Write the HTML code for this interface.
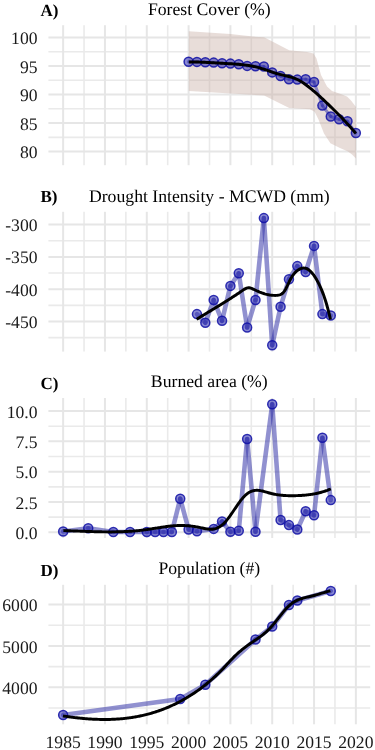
<!DOCTYPE html>
<html><head><meta charset="utf-8"><style>
html,body{margin:0;padding:0;background:#fff;width:375px;height:750px;overflow:hidden}
svg{display:block;will-change:transform}
text{font-family:"Liberation Serif",serif;fill:#1a1a1a;text-rendering:geometricPrecision}
.ax{font-size:17.6px}
.ti{font-size:17.7px;fill:#000}
.tag{font-size:17px;font-weight:bold;fill:#000}
</style></head><body>
<svg width="375" height="750" viewBox="0 0 375 750">
<rect width="375" height="750" fill="#fff"/>
<line x1="48.40" y1="51.75" x2="370.20" y2="51.75" stroke="#EAEAEA" stroke-width="1.6"/>
<line x1="48.40" y1="80.28" x2="370.20" y2="80.28" stroke="#EAEAEA" stroke-width="1.6"/>
<line x1="48.40" y1="108.82" x2="370.20" y2="108.82" stroke="#EAEAEA" stroke-width="1.6"/>
<line x1="48.40" y1="137.35" x2="370.20" y2="137.35" stroke="#EAEAEA" stroke-width="1.6"/>
<line x1="63.15" y1="25.20" x2="63.15" y2="165.20" stroke="#E6E6E6" stroke-width="2.0"/>
<line x1="84.06" y1="25.20" x2="84.06" y2="165.20" stroke="#EAEAEA" stroke-width="1.6"/>
<line x1="104.96" y1="25.20" x2="104.96" y2="165.20" stroke="#E6E6E6" stroke-width="2.0"/>
<line x1="125.87" y1="25.20" x2="125.87" y2="165.20" stroke="#EAEAEA" stroke-width="1.6"/>
<line x1="146.78" y1="25.20" x2="146.78" y2="165.20" stroke="#E6E6E6" stroke-width="2.0"/>
<line x1="167.69" y1="25.20" x2="167.69" y2="165.20" stroke="#EAEAEA" stroke-width="1.6"/>
<line x1="188.59" y1="25.20" x2="188.59" y2="165.20" stroke="#E6E6E6" stroke-width="2.0"/>
<line x1="209.50" y1="25.20" x2="209.50" y2="165.20" stroke="#EAEAEA" stroke-width="1.6"/>
<line x1="230.41" y1="25.20" x2="230.41" y2="165.20" stroke="#E6E6E6" stroke-width="2.0"/>
<line x1="251.31" y1="25.20" x2="251.31" y2="165.20" stroke="#EAEAEA" stroke-width="1.6"/>
<line x1="272.22" y1="25.20" x2="272.22" y2="165.20" stroke="#E6E6E6" stroke-width="2.0"/>
<line x1="293.13" y1="25.20" x2="293.13" y2="165.20" stroke="#EAEAEA" stroke-width="1.6"/>
<line x1="314.04" y1="25.20" x2="314.04" y2="165.20" stroke="#E6E6E6" stroke-width="2.0"/>
<line x1="334.94" y1="25.20" x2="334.94" y2="165.20" stroke="#EAEAEA" stroke-width="1.6"/>
<line x1="355.85" y1="25.20" x2="355.85" y2="165.20" stroke="#E6E6E6" stroke-width="2.0"/>
<line x1="48.40" y1="37.50" x2="370.20" y2="37.50" stroke="#E6E6E6" stroke-width="2.0"/>
<line x1="48.40" y1="66.00" x2="370.20" y2="66.00" stroke="#E6E6E6" stroke-width="2.0"/>
<line x1="48.40" y1="94.55" x2="370.20" y2="94.55" stroke="#E6E6E6" stroke-width="2.0"/>
<line x1="48.40" y1="123.10" x2="370.20" y2="123.10" stroke="#E6E6E6" stroke-width="2.0"/>
<line x1="48.40" y1="151.60" x2="370.20" y2="151.60" stroke="#E6E6E6" stroke-width="2.0"/>
<path d="M188.80,31.30 L230.30,33.90 L253.00,36.60 L264.10,37.30 L289.20,50.30 L307.10,52.10 L313.50,53.50 L316.50,58.50 L321.00,75.00 L327.00,86.50 L332.00,91.00 L340.00,93.70 L347.00,96.50 L351.00,100.50 L356.00,107.00 L356.00,158.50 L352.00,154.50 L348.00,151.40 L340.00,148.00 L330.40,143.20 L324.00,133.60 L318.40,119.20 L314.60,111.80 L309.90,109.30 L289.20,107.90 L264.10,95.60 L188.80,91.00 Z" fill="rgba(197,170,160,0.4)"/>
<line x1="188.59" y1="61.70" x2="196.96" y2="61.90" stroke="rgba(55,55,170,0.55)" stroke-width="3.0" stroke-linecap="round"/>
<line x1="196.96" y1="61.90" x2="205.32" y2="62.20" stroke="rgba(55,55,170,0.55)" stroke-width="3.0" stroke-linecap="round"/>
<line x1="205.32" y1="62.20" x2="213.68" y2="62.60" stroke="rgba(55,55,170,0.55)" stroke-width="3.0" stroke-linecap="round"/>
<line x1="213.68" y1="62.60" x2="222.04" y2="63.20" stroke="rgba(55,55,170,0.55)" stroke-width="3.0" stroke-linecap="round"/>
<line x1="222.04" y1="63.20" x2="230.41" y2="63.60" stroke="rgba(55,55,170,0.55)" stroke-width="3.0" stroke-linecap="round"/>
<line x1="230.41" y1="63.60" x2="238.77" y2="64.30" stroke="rgba(55,55,170,0.55)" stroke-width="3.0" stroke-linecap="round"/>
<line x1="238.77" y1="64.30" x2="247.13" y2="65.90" stroke="rgba(55,55,170,0.55)" stroke-width="3.0" stroke-linecap="round"/>
<line x1="247.13" y1="65.90" x2="255.50" y2="66.30" stroke="rgba(55,55,170,0.55)" stroke-width="3.0" stroke-linecap="round"/>
<line x1="255.50" y1="66.30" x2="263.86" y2="66.50" stroke="rgba(55,55,170,0.55)" stroke-width="3.0" stroke-linecap="round"/>
<line x1="263.86" y1="66.50" x2="272.22" y2="72.40" stroke="rgba(55,55,170,0.55)" stroke-width="3.0" stroke-linecap="round"/>
<line x1="272.22" y1="72.40" x2="280.58" y2="76.00" stroke="rgba(55,55,170,0.55)" stroke-width="3.0" stroke-linecap="round"/>
<line x1="280.58" y1="76.00" x2="288.95" y2="79.30" stroke="rgba(55,55,170,0.55)" stroke-width="3.0" stroke-linecap="round"/>
<line x1="288.95" y1="79.30" x2="297.31" y2="79.60" stroke="rgba(55,55,170,0.55)" stroke-width="3.0" stroke-linecap="round"/>
<line x1="297.31" y1="79.60" x2="305.67" y2="79.30" stroke="rgba(55,55,170,0.55)" stroke-width="3.0" stroke-linecap="round"/>
<line x1="305.67" y1="79.30" x2="314.04" y2="82.00" stroke="rgba(55,55,170,0.55)" stroke-width="3.0" stroke-linecap="round"/>
<line x1="314.04" y1="82.00" x2="322.40" y2="105.60" stroke="rgba(55,55,170,0.55)" stroke-width="3.0" stroke-linecap="round"/>
<line x1="322.40" y1="105.60" x2="330.76" y2="116.50" stroke="rgba(55,55,170,0.55)" stroke-width="3.0" stroke-linecap="round"/>
<line x1="330.76" y1="116.50" x2="339.12" y2="119.30" stroke="rgba(55,55,170,0.55)" stroke-width="3.0" stroke-linecap="round"/>
<line x1="339.12" y1="119.30" x2="347.49" y2="121.30" stroke="rgba(55,55,170,0.55)" stroke-width="3.0" stroke-linecap="round"/>
<line x1="347.49" y1="121.30" x2="355.85" y2="133.00" stroke="rgba(55,55,170,0.55)" stroke-width="3.0" stroke-linecap="round"/>
<circle cx="188.59" cy="61.70" r="4.5" fill="rgba(40,40,175,0.55)" stroke="rgba(15,15,165,0.85)" stroke-width="1.5"/>
<circle cx="196.96" cy="61.90" r="4.5" fill="rgba(40,40,175,0.55)" stroke="rgba(15,15,165,0.85)" stroke-width="1.5"/>
<circle cx="205.32" cy="62.20" r="4.5" fill="rgba(40,40,175,0.55)" stroke="rgba(15,15,165,0.85)" stroke-width="1.5"/>
<circle cx="213.68" cy="62.60" r="4.5" fill="rgba(40,40,175,0.55)" stroke="rgba(15,15,165,0.85)" stroke-width="1.5"/>
<circle cx="222.04" cy="63.20" r="4.5" fill="rgba(40,40,175,0.55)" stroke="rgba(15,15,165,0.85)" stroke-width="1.5"/>
<circle cx="230.41" cy="63.60" r="4.5" fill="rgba(40,40,175,0.55)" stroke="rgba(15,15,165,0.85)" stroke-width="1.5"/>
<circle cx="238.77" cy="64.30" r="4.5" fill="rgba(40,40,175,0.55)" stroke="rgba(15,15,165,0.85)" stroke-width="1.5"/>
<circle cx="247.13" cy="65.90" r="4.5" fill="rgba(40,40,175,0.55)" stroke="rgba(15,15,165,0.85)" stroke-width="1.5"/>
<circle cx="255.50" cy="66.30" r="4.5" fill="rgba(40,40,175,0.55)" stroke="rgba(15,15,165,0.85)" stroke-width="1.5"/>
<circle cx="263.86" cy="66.50" r="4.5" fill="rgba(40,40,175,0.55)" stroke="rgba(15,15,165,0.85)" stroke-width="1.5"/>
<circle cx="272.22" cy="72.40" r="4.5" fill="rgba(40,40,175,0.55)" stroke="rgba(15,15,165,0.85)" stroke-width="1.5"/>
<circle cx="280.58" cy="76.00" r="4.5" fill="rgba(40,40,175,0.55)" stroke="rgba(15,15,165,0.85)" stroke-width="1.5"/>
<circle cx="288.95" cy="79.30" r="4.5" fill="rgba(40,40,175,0.55)" stroke="rgba(15,15,165,0.85)" stroke-width="1.5"/>
<circle cx="297.31" cy="79.60" r="4.5" fill="rgba(40,40,175,0.55)" stroke="rgba(15,15,165,0.85)" stroke-width="1.5"/>
<circle cx="305.67" cy="79.30" r="4.5" fill="rgba(40,40,175,0.55)" stroke="rgba(15,15,165,0.85)" stroke-width="1.5"/>
<circle cx="314.04" cy="82.00" r="4.5" fill="rgba(40,40,175,0.55)" stroke="rgba(15,15,165,0.85)" stroke-width="1.5"/>
<circle cx="322.40" cy="105.60" r="4.5" fill="rgba(40,40,175,0.55)" stroke="rgba(15,15,165,0.85)" stroke-width="1.5"/>
<circle cx="330.76" cy="116.50" r="4.5" fill="rgba(40,40,175,0.55)" stroke="rgba(15,15,165,0.85)" stroke-width="1.5"/>
<circle cx="339.12" cy="119.30" r="4.5" fill="rgba(40,40,175,0.55)" stroke="rgba(15,15,165,0.85)" stroke-width="1.5"/>
<circle cx="347.49" cy="121.30" r="4.5" fill="rgba(40,40,175,0.55)" stroke="rgba(15,15,165,0.85)" stroke-width="1.5"/>
<circle cx="355.85" cy="133.00" r="4.5" fill="rgba(40,40,175,0.55)" stroke="rgba(15,15,165,0.85)" stroke-width="1.5"/>
<path d="M188.80,61.90 L189.80,61.90 L190.80,61.91 L191.80,61.92 L192.80,61.93 L193.80,61.95 L194.80,61.97 L195.80,61.99 L196.80,62.02 L197.80,62.05 L198.80,62.08 L199.80,62.11 L200.80,62.15 L201.80,62.19 L202.80,62.23 L203.80,62.28 L204.80,62.32 L205.80,62.37 L206.80,62.42 L207.80,62.47 L208.80,62.52 L209.80,62.57 L210.80,62.63 L211.80,62.68 L212.80,62.74 L213.80,62.80 L214.80,62.86 L215.80,62.91 L216.80,62.97 L217.80,63.03 L218.80,63.09 L219.80,63.15 L220.80,63.21 L221.80,63.27 L222.80,63.33 L223.80,63.38 L224.80,63.44 L225.80,63.50 L226.80,63.55 L227.80,63.61 L228.80,63.67 L229.80,63.72 L230.80,63.78 L231.80,63.84 L232.80,63.90 L233.80,63.97 L234.80,64.04 L235.80,64.11 L236.80,64.18 L237.80,64.26 L238.80,64.34 L239.80,64.43 L240.80,64.53 L241.80,64.63 L242.80,64.73 L243.80,64.85 L244.80,64.97 L245.80,65.09 L246.80,65.23 L247.80,65.38 L248.80,65.53 L249.80,65.69 L250.80,65.86 L251.80,66.05 L252.80,66.24 L253.80,66.45 L254.80,66.66 L255.80,66.89 L256.80,67.13 L257.80,67.39 L258.80,67.65 L259.80,67.93 L260.80,68.23 L261.80,68.54 L262.80,68.85 L263.80,69.18 L264.80,69.52 L265.80,69.86 L266.80,70.21 L267.80,70.56 L268.80,70.91 L269.80,71.26 L270.80,71.61 L271.80,71.96 L272.80,72.30 L273.80,72.63 L274.80,72.96 L275.80,73.27 L276.80,73.58 L277.80,73.87 L278.80,74.15 L279.80,74.41 L280.80,74.65 L281.80,74.89 L282.80,75.12 L283.80,75.35 L284.80,75.57 L285.80,75.80 L286.80,76.03 L287.80,76.26 L288.80,76.51 L289.80,76.77 L290.80,77.05 L291.80,77.35 L292.80,77.67 L293.80,78.02 L294.80,78.39 L295.80,78.79 L296.80,79.23 L297.80,79.71 L298.80,80.22 L299.80,80.77 L300.80,81.36 L301.80,81.97 L302.80,82.61 L303.80,83.29 L304.80,83.99 L305.80,84.71 L306.80,85.45 L307.80,86.21 L308.80,87.00 L309.80,87.79 L310.80,88.60 L311.80,89.43 L312.80,90.26 L313.80,91.11 L314.80,91.97 L315.80,92.84 L316.80,93.72 L317.80,94.60 L318.80,95.50 L319.80,96.41 L320.80,97.32 L321.80,98.24 L322.80,99.17 L323.80,100.11 L324.80,101.05 L325.80,102.00 L326.80,102.96 L327.80,103.92 L328.80,104.88 L329.80,105.85 L330.80,106.83 L331.80,107.80 L332.80,108.78 L333.80,109.77 L334.80,110.76 L335.80,111.75 L336.80,112.75 L337.80,113.75 L338.80,114.76 L339.80,115.78 L340.80,116.80 L341.80,117.83 L342.80,118.87 L343.80,119.92 L344.80,120.98 L345.80,122.05 L346.80,123.13 L347.80,124.22 L348.80,125.33 L349.80,126.44 L350.80,127.57 L351.80,128.72 L352.80,129.87 L353.80,131.04 L354.80,132.23 L355.80,133.43 L355.90,133.55" fill="none" stroke="#000" stroke-width="2.95" stroke-linecap="butt" stroke-linejoin="round"/>
<line x1="48.40" y1="240.75" x2="370.20" y2="240.75" stroke="#EAEAEA" stroke-width="1.6"/>
<line x1="48.40" y1="273.05" x2="370.20" y2="273.05" stroke="#EAEAEA" stroke-width="1.6"/>
<line x1="48.40" y1="305.35" x2="370.20" y2="305.35" stroke="#EAEAEA" stroke-width="1.6"/>
<line x1="48.40" y1="337.65" x2="370.20" y2="337.65" stroke="#EAEAEA" stroke-width="1.6"/>
<line x1="63.15" y1="211.80" x2="63.15" y2="351.60" stroke="#E6E6E6" stroke-width="2.0"/>
<line x1="84.06" y1="211.80" x2="84.06" y2="351.60" stroke="#EAEAEA" stroke-width="1.6"/>
<line x1="104.96" y1="211.80" x2="104.96" y2="351.60" stroke="#E6E6E6" stroke-width="2.0"/>
<line x1="125.87" y1="211.80" x2="125.87" y2="351.60" stroke="#EAEAEA" stroke-width="1.6"/>
<line x1="146.78" y1="211.80" x2="146.78" y2="351.60" stroke="#E6E6E6" stroke-width="2.0"/>
<line x1="167.69" y1="211.80" x2="167.69" y2="351.60" stroke="#EAEAEA" stroke-width="1.6"/>
<line x1="188.59" y1="211.80" x2="188.59" y2="351.60" stroke="#E6E6E6" stroke-width="2.0"/>
<line x1="209.50" y1="211.80" x2="209.50" y2="351.60" stroke="#EAEAEA" stroke-width="1.6"/>
<line x1="230.41" y1="211.80" x2="230.41" y2="351.60" stroke="#E6E6E6" stroke-width="2.0"/>
<line x1="251.31" y1="211.80" x2="251.31" y2="351.60" stroke="#EAEAEA" stroke-width="1.6"/>
<line x1="272.22" y1="211.80" x2="272.22" y2="351.60" stroke="#E6E6E6" stroke-width="2.0"/>
<line x1="293.13" y1="211.80" x2="293.13" y2="351.60" stroke="#EAEAEA" stroke-width="1.6"/>
<line x1="314.04" y1="211.80" x2="314.04" y2="351.60" stroke="#E6E6E6" stroke-width="2.0"/>
<line x1="334.94" y1="211.80" x2="334.94" y2="351.60" stroke="#EAEAEA" stroke-width="1.6"/>
<line x1="355.85" y1="211.80" x2="355.85" y2="351.60" stroke="#E6E6E6" stroke-width="2.0"/>
<line x1="48.40" y1="224.60" x2="370.20" y2="224.60" stroke="#E6E6E6" stroke-width="2.0"/>
<line x1="48.40" y1="256.90" x2="370.20" y2="256.90" stroke="#E6E6E6" stroke-width="2.0"/>
<line x1="48.40" y1="289.20" x2="370.20" y2="289.20" stroke="#E6E6E6" stroke-width="2.0"/>
<line x1="48.40" y1="321.50" x2="370.20" y2="321.50" stroke="#E6E6E6" stroke-width="2.0"/>
<line x1="196.96" y1="314.10" x2="205.32" y2="322.70" stroke="rgba(55,55,170,0.55)" stroke-width="4.6" stroke-linecap="round"/>
<line x1="205.32" y1="322.70" x2="213.68" y2="300.00" stroke="rgba(55,55,170,0.55)" stroke-width="4.6" stroke-linecap="round"/>
<line x1="213.68" y1="300.00" x2="222.04" y2="320.80" stroke="rgba(55,55,170,0.55)" stroke-width="4.6" stroke-linecap="round"/>
<line x1="222.04" y1="320.80" x2="230.41" y2="285.90" stroke="rgba(55,55,170,0.55)" stroke-width="4.6" stroke-linecap="round"/>
<line x1="230.41" y1="285.90" x2="238.77" y2="273.30" stroke="rgba(55,55,170,0.55)" stroke-width="4.6" stroke-linecap="round"/>
<line x1="238.77" y1="273.30" x2="247.13" y2="327.50" stroke="rgba(55,55,170,0.55)" stroke-width="4.6" stroke-linecap="round"/>
<line x1="247.13" y1="327.50" x2="255.50" y2="300.00" stroke="rgba(55,55,170,0.55)" stroke-width="4.6" stroke-linecap="round"/>
<line x1="255.50" y1="300.00" x2="263.86" y2="218.10" stroke="rgba(55,55,170,0.55)" stroke-width="4.6" stroke-linecap="round"/>
<line x1="263.86" y1="218.10" x2="272.22" y2="345.30" stroke="rgba(55,55,170,0.55)" stroke-width="4.6" stroke-linecap="round"/>
<line x1="272.22" y1="345.30" x2="280.58" y2="306.70" stroke="rgba(55,55,170,0.55)" stroke-width="4.6" stroke-linecap="round"/>
<line x1="280.58" y1="306.70" x2="288.95" y2="279.20" stroke="rgba(55,55,170,0.55)" stroke-width="4.6" stroke-linecap="round"/>
<line x1="288.95" y1="279.20" x2="297.31" y2="266.10" stroke="rgba(55,55,170,0.55)" stroke-width="4.6" stroke-linecap="round"/>
<line x1="297.31" y1="266.10" x2="305.67" y2="272.00" stroke="rgba(55,55,170,0.55)" stroke-width="4.6" stroke-linecap="round"/>
<line x1="305.67" y1="272.00" x2="314.04" y2="245.90" stroke="rgba(55,55,170,0.55)" stroke-width="4.6" stroke-linecap="round"/>
<line x1="314.04" y1="245.90" x2="322.40" y2="314.10" stroke="rgba(55,55,170,0.55)" stroke-width="4.6" stroke-linecap="round"/>
<line x1="322.40" y1="314.10" x2="330.76" y2="315.50" stroke="rgba(55,55,170,0.55)" stroke-width="4.6" stroke-linecap="round"/>
<circle cx="196.96" cy="314.10" r="4.5" fill="rgba(40,40,175,0.55)" stroke="rgba(15,15,165,0.85)" stroke-width="1.5"/>
<circle cx="205.32" cy="322.70" r="4.5" fill="rgba(40,40,175,0.55)" stroke="rgba(15,15,165,0.85)" stroke-width="1.5"/>
<circle cx="213.68" cy="300.00" r="4.5" fill="rgba(40,40,175,0.55)" stroke="rgba(15,15,165,0.85)" stroke-width="1.5"/>
<circle cx="222.04" cy="320.80" r="4.5" fill="rgba(40,40,175,0.55)" stroke="rgba(15,15,165,0.85)" stroke-width="1.5"/>
<circle cx="230.41" cy="285.90" r="4.5" fill="rgba(40,40,175,0.55)" stroke="rgba(15,15,165,0.85)" stroke-width="1.5"/>
<circle cx="238.77" cy="273.30" r="4.5" fill="rgba(40,40,175,0.55)" stroke="rgba(15,15,165,0.85)" stroke-width="1.5"/>
<circle cx="247.13" cy="327.50" r="4.5" fill="rgba(40,40,175,0.55)" stroke="rgba(15,15,165,0.85)" stroke-width="1.5"/>
<circle cx="255.50" cy="300.00" r="4.5" fill="rgba(40,40,175,0.55)" stroke="rgba(15,15,165,0.85)" stroke-width="1.5"/>
<circle cx="263.86" cy="218.10" r="4.5" fill="rgba(40,40,175,0.55)" stroke="rgba(15,15,165,0.85)" stroke-width="1.5"/>
<circle cx="272.22" cy="345.30" r="4.5" fill="rgba(40,40,175,0.55)" stroke="rgba(15,15,165,0.85)" stroke-width="1.5"/>
<circle cx="280.58" cy="306.70" r="4.5" fill="rgba(40,40,175,0.55)" stroke="rgba(15,15,165,0.85)" stroke-width="1.5"/>
<circle cx="288.95" cy="279.20" r="4.5" fill="rgba(40,40,175,0.55)" stroke="rgba(15,15,165,0.85)" stroke-width="1.5"/>
<circle cx="297.31" cy="266.10" r="4.5" fill="rgba(40,40,175,0.55)" stroke="rgba(15,15,165,0.85)" stroke-width="1.5"/>
<circle cx="305.67" cy="272.00" r="4.5" fill="rgba(40,40,175,0.55)" stroke="rgba(15,15,165,0.85)" stroke-width="1.5"/>
<circle cx="314.04" cy="245.90" r="4.5" fill="rgba(40,40,175,0.55)" stroke="rgba(15,15,165,0.85)" stroke-width="1.5"/>
<circle cx="322.40" cy="314.10" r="4.5" fill="rgba(40,40,175,0.55)" stroke="rgba(15,15,165,0.85)" stroke-width="1.5"/>
<circle cx="330.76" cy="315.50" r="4.5" fill="rgba(40,40,175,0.55)" stroke="rgba(15,15,165,0.85)" stroke-width="1.5"/>
<path d="M196.60,319.31 L197.60,318.69 L198.60,318.08 L199.60,317.47 L200.60,316.85 L201.60,316.24 L202.60,315.63 L203.60,315.02 L204.60,314.42 L205.60,313.81 L206.60,313.20 L207.60,312.59 L208.60,311.99 L209.60,311.38 L210.60,310.77 L211.60,310.17 L212.60,309.56 L213.60,308.95 L214.60,308.34 L215.60,307.73 L216.60,307.12 L217.60,306.51 L218.60,305.90 L219.60,305.28 L220.60,304.67 L221.60,304.05 L222.60,303.43 L223.60,302.81 L224.60,302.19 L225.60,301.56 L226.60,300.93 L227.60,300.30 L228.60,299.67 L229.60,299.04 L230.60,298.40 L231.60,297.76 L232.60,297.11 L233.60,296.46 L234.60,295.81 L235.60,295.16 L236.60,294.50 L237.60,293.83 L238.60,293.16 L239.60,292.49 L240.60,291.80 L241.60,291.11 L242.60,290.41 L243.60,289.74 L244.60,289.12 L245.60,288.58 L246.60,288.16 L247.60,287.88 L248.60,287.77 L249.60,287.84 L250.60,288.06 L251.60,288.40 L252.60,288.83 L253.60,289.30 L254.60,289.80 L255.60,290.29 L256.60,290.76 L257.60,291.22 L258.60,291.65 L259.60,292.07 L260.60,292.46 L261.60,292.83 L262.60,293.18 L263.60,293.51 L264.60,293.82 L265.60,294.10 L266.60,294.35 L267.60,294.58 L268.60,294.78 L269.60,294.96 L270.60,295.11 L271.60,295.23 L272.60,295.32 L273.60,295.37 L274.60,295.40 L275.60,295.40 L276.60,295.36 L277.60,295.29 L278.60,295.15 L279.60,294.91 L280.60,294.53 L281.60,293.98 L282.60,293.21 L283.60,292.18 L284.60,290.86 L285.60,289.22 L286.60,287.30 L287.60,285.21 L288.60,283.05 L289.60,280.93 L290.60,278.97 L291.60,277.22 L292.60,275.67 L293.60,274.31 L294.60,273.12 L295.60,272.07 L296.60,271.16 L297.60,270.36 L298.60,269.67 L299.60,269.10 L300.60,268.64 L301.60,268.31 L302.60,268.10 L303.60,268.03 L304.60,268.10 L305.60,268.30 L306.60,268.66 L307.60,269.15 L308.60,269.78 L309.60,270.55 L310.60,271.46 L311.60,272.50 L312.60,273.67 L313.60,274.97 L314.60,276.40 L315.60,277.95 L316.60,279.62 L317.60,281.42 L318.60,283.34 L319.60,285.37 L320.60,287.55 L321.60,289.88 L322.60,292.37 L323.60,295.04 L324.60,297.90 L325.60,300.97 L326.60,304.26 L327.60,307.79 L328.60,311.56 L329.60,315.61 L330.50,319.48" fill="none" stroke="#000" stroke-width="2.95" stroke-linecap="butt" stroke-linejoin="round"/>
<line x1="48.40" y1="426.18" x2="370.20" y2="426.18" stroke="#EAEAEA" stroke-width="1.6"/>
<line x1="48.40" y1="456.52" x2="370.20" y2="456.52" stroke="#EAEAEA" stroke-width="1.6"/>
<line x1="48.40" y1="486.85" x2="370.20" y2="486.85" stroke="#EAEAEA" stroke-width="1.6"/>
<line x1="48.40" y1="517.15" x2="370.20" y2="517.15" stroke="#EAEAEA" stroke-width="1.6"/>
<line x1="63.15" y1="398.00" x2="63.15" y2="538.00" stroke="#E6E6E6" stroke-width="2.0"/>
<line x1="84.06" y1="398.00" x2="84.06" y2="538.00" stroke="#EAEAEA" stroke-width="1.6"/>
<line x1="104.96" y1="398.00" x2="104.96" y2="538.00" stroke="#E6E6E6" stroke-width="2.0"/>
<line x1="125.87" y1="398.00" x2="125.87" y2="538.00" stroke="#EAEAEA" stroke-width="1.6"/>
<line x1="146.78" y1="398.00" x2="146.78" y2="538.00" stroke="#E6E6E6" stroke-width="2.0"/>
<line x1="167.69" y1="398.00" x2="167.69" y2="538.00" stroke="#EAEAEA" stroke-width="1.6"/>
<line x1="188.59" y1="398.00" x2="188.59" y2="538.00" stroke="#E6E6E6" stroke-width="2.0"/>
<line x1="209.50" y1="398.00" x2="209.50" y2="538.00" stroke="#EAEAEA" stroke-width="1.6"/>
<line x1="230.41" y1="398.00" x2="230.41" y2="538.00" stroke="#E6E6E6" stroke-width="2.0"/>
<line x1="251.31" y1="398.00" x2="251.31" y2="538.00" stroke="#EAEAEA" stroke-width="1.6"/>
<line x1="272.22" y1="398.00" x2="272.22" y2="538.00" stroke="#E6E6E6" stroke-width="2.0"/>
<line x1="293.13" y1="398.00" x2="293.13" y2="538.00" stroke="#EAEAEA" stroke-width="1.6"/>
<line x1="314.04" y1="398.00" x2="314.04" y2="538.00" stroke="#E6E6E6" stroke-width="2.0"/>
<line x1="334.94" y1="398.00" x2="334.94" y2="538.00" stroke="#EAEAEA" stroke-width="1.6"/>
<line x1="355.85" y1="398.00" x2="355.85" y2="538.00" stroke="#E6E6E6" stroke-width="2.0"/>
<line x1="48.40" y1="411.00" x2="370.20" y2="411.00" stroke="#E6E6E6" stroke-width="2.0"/>
<line x1="48.40" y1="441.35" x2="370.20" y2="441.35" stroke="#E6E6E6" stroke-width="2.0"/>
<line x1="48.40" y1="471.70" x2="370.20" y2="471.70" stroke="#E6E6E6" stroke-width="2.0"/>
<line x1="48.40" y1="502.00" x2="370.20" y2="502.00" stroke="#E6E6E6" stroke-width="2.0"/>
<line x1="48.40" y1="532.30" x2="370.20" y2="532.30" stroke="#E6E6E6" stroke-width="2.0"/>
<line x1="63.15" y1="531.50" x2="88.24" y2="528.20" stroke="rgba(55,55,170,0.55)" stroke-width="4.6" stroke-linecap="round"/>
<line x1="88.24" y1="528.20" x2="113.33" y2="532.00" stroke="rgba(55,55,170,0.55)" stroke-width="4.6" stroke-linecap="round"/>
<line x1="113.33" y1="532.00" x2="130.05" y2="532.00" stroke="rgba(55,55,170,0.55)" stroke-width="4.6" stroke-linecap="round"/>
<line x1="130.05" y1="532.00" x2="146.78" y2="532.00" stroke="rgba(55,55,170,0.55)" stroke-width="4.6" stroke-linecap="round"/>
<line x1="146.78" y1="532.00" x2="155.14" y2="532.00" stroke="rgba(55,55,170,0.55)" stroke-width="4.6" stroke-linecap="round"/>
<line x1="155.14" y1="532.00" x2="163.50" y2="532.00" stroke="rgba(55,55,170,0.55)" stroke-width="4.6" stroke-linecap="round"/>
<line x1="163.50" y1="532.00" x2="171.87" y2="532.00" stroke="rgba(55,55,170,0.55)" stroke-width="4.6" stroke-linecap="round"/>
<line x1="171.87" y1="532.00" x2="180.23" y2="498.70" stroke="rgba(55,55,170,0.55)" stroke-width="4.6" stroke-linecap="round"/>
<line x1="180.23" y1="498.70" x2="188.59" y2="529.50" stroke="rgba(55,55,170,0.55)" stroke-width="4.6" stroke-linecap="round"/>
<line x1="188.59" y1="529.50" x2="196.96" y2="531.30" stroke="rgba(55,55,170,0.55)" stroke-width="4.6" stroke-linecap="round"/>
<line x1="196.96" y1="531.30" x2="213.68" y2="528.90" stroke="rgba(55,55,170,0.55)" stroke-width="4.6" stroke-linecap="round"/>
<line x1="213.68" y1="528.90" x2="222.04" y2="521.50" stroke="rgba(55,55,170,0.55)" stroke-width="4.6" stroke-linecap="round"/>
<line x1="222.04" y1="521.50" x2="230.41" y2="531.80" stroke="rgba(55,55,170,0.55)" stroke-width="4.6" stroke-linecap="round"/>
<line x1="230.41" y1="531.80" x2="238.77" y2="530.70" stroke="rgba(55,55,170,0.55)" stroke-width="4.6" stroke-linecap="round"/>
<line x1="238.77" y1="530.70" x2="247.13" y2="439.00" stroke="rgba(55,55,170,0.55)" stroke-width="4.6" stroke-linecap="round"/>
<line x1="247.13" y1="439.00" x2="255.50" y2="531.80" stroke="rgba(55,55,170,0.55)" stroke-width="4.6" stroke-linecap="round"/>
<line x1="255.50" y1="531.80" x2="272.22" y2="404.30" stroke="rgba(55,55,170,0.55)" stroke-width="4.6" stroke-linecap="round"/>
<line x1="272.22" y1="404.30" x2="280.58" y2="520.00" stroke="rgba(55,55,170,0.55)" stroke-width="4.6" stroke-linecap="round"/>
<line x1="280.58" y1="520.00" x2="288.95" y2="525.10" stroke="rgba(55,55,170,0.55)" stroke-width="4.6" stroke-linecap="round"/>
<line x1="288.95" y1="525.10" x2="297.31" y2="529.50" stroke="rgba(55,55,170,0.55)" stroke-width="4.6" stroke-linecap="round"/>
<line x1="297.31" y1="529.50" x2="305.67" y2="511.30" stroke="rgba(55,55,170,0.55)" stroke-width="4.6" stroke-linecap="round"/>
<line x1="305.67" y1="511.30" x2="314.04" y2="515.30" stroke="rgba(55,55,170,0.55)" stroke-width="4.6" stroke-linecap="round"/>
<line x1="314.04" y1="515.30" x2="322.40" y2="437.80" stroke="rgba(55,55,170,0.55)" stroke-width="4.6" stroke-linecap="round"/>
<line x1="322.40" y1="437.80" x2="330.76" y2="500.10" stroke="rgba(55,55,170,0.55)" stroke-width="4.6" stroke-linecap="round"/>
<circle cx="63.15" cy="531.50" r="4.5" fill="rgba(40,40,175,0.55)" stroke="rgba(15,15,165,0.85)" stroke-width="1.5"/>
<circle cx="88.24" cy="528.20" r="4.5" fill="rgba(40,40,175,0.55)" stroke="rgba(15,15,165,0.85)" stroke-width="1.5"/>
<circle cx="113.33" cy="532.00" r="4.5" fill="rgba(40,40,175,0.55)" stroke="rgba(15,15,165,0.85)" stroke-width="1.5"/>
<circle cx="130.05" cy="532.00" r="4.5" fill="rgba(40,40,175,0.55)" stroke="rgba(15,15,165,0.85)" stroke-width="1.5"/>
<circle cx="146.78" cy="532.00" r="4.5" fill="rgba(40,40,175,0.55)" stroke="rgba(15,15,165,0.85)" stroke-width="1.5"/>
<circle cx="155.14" cy="532.00" r="4.5" fill="rgba(40,40,175,0.55)" stroke="rgba(15,15,165,0.85)" stroke-width="1.5"/>
<circle cx="163.50" cy="532.00" r="4.5" fill="rgba(40,40,175,0.55)" stroke="rgba(15,15,165,0.85)" stroke-width="1.5"/>
<circle cx="171.87" cy="532.00" r="4.5" fill="rgba(40,40,175,0.55)" stroke="rgba(15,15,165,0.85)" stroke-width="1.5"/>
<circle cx="180.23" cy="498.70" r="4.5" fill="rgba(40,40,175,0.55)" stroke="rgba(15,15,165,0.85)" stroke-width="1.5"/>
<circle cx="188.59" cy="529.50" r="4.5" fill="rgba(40,40,175,0.55)" stroke="rgba(15,15,165,0.85)" stroke-width="1.5"/>
<circle cx="196.96" cy="531.30" r="4.5" fill="rgba(40,40,175,0.55)" stroke="rgba(15,15,165,0.85)" stroke-width="1.5"/>
<circle cx="213.68" cy="528.90" r="4.5" fill="rgba(40,40,175,0.55)" stroke="rgba(15,15,165,0.85)" stroke-width="1.5"/>
<circle cx="222.04" cy="521.50" r="4.5" fill="rgba(40,40,175,0.55)" stroke="rgba(15,15,165,0.85)" stroke-width="1.5"/>
<circle cx="230.41" cy="531.80" r="4.5" fill="rgba(40,40,175,0.55)" stroke="rgba(15,15,165,0.85)" stroke-width="1.5"/>
<circle cx="238.77" cy="530.70" r="4.5" fill="rgba(40,40,175,0.55)" stroke="rgba(15,15,165,0.85)" stroke-width="1.5"/>
<circle cx="247.13" cy="439.00" r="4.5" fill="rgba(40,40,175,0.55)" stroke="rgba(15,15,165,0.85)" stroke-width="1.5"/>
<circle cx="255.50" cy="531.80" r="4.5" fill="rgba(40,40,175,0.55)" stroke="rgba(15,15,165,0.85)" stroke-width="1.5"/>
<circle cx="272.22" cy="404.30" r="4.5" fill="rgba(40,40,175,0.55)" stroke="rgba(15,15,165,0.85)" stroke-width="1.5"/>
<circle cx="280.58" cy="520.00" r="4.5" fill="rgba(40,40,175,0.55)" stroke="rgba(15,15,165,0.85)" stroke-width="1.5"/>
<circle cx="288.95" cy="525.10" r="4.5" fill="rgba(40,40,175,0.55)" stroke="rgba(15,15,165,0.85)" stroke-width="1.5"/>
<circle cx="297.31" cy="529.50" r="4.5" fill="rgba(40,40,175,0.55)" stroke="rgba(15,15,165,0.85)" stroke-width="1.5"/>
<circle cx="305.67" cy="511.30" r="4.5" fill="rgba(40,40,175,0.55)" stroke="rgba(15,15,165,0.85)" stroke-width="1.5"/>
<circle cx="314.04" cy="515.30" r="4.5" fill="rgba(40,40,175,0.55)" stroke="rgba(15,15,165,0.85)" stroke-width="1.5"/>
<circle cx="322.40" cy="437.80" r="4.5" fill="rgba(40,40,175,0.55)" stroke="rgba(15,15,165,0.85)" stroke-width="1.5"/>
<circle cx="330.76" cy="500.10" r="4.5" fill="rgba(40,40,175,0.55)" stroke="rgba(15,15,165,0.85)" stroke-width="1.5"/>
<path d="M63.40,530.57 L64.40,530.60 L65.40,530.63 L66.40,530.67 L67.40,530.70 L68.40,530.74 L69.40,530.77 L70.40,530.81 L71.40,530.85 L72.40,530.88 L73.40,530.92 L74.40,530.96 L75.40,531.00 L76.40,531.04 L77.40,531.07 L78.40,531.11 L79.40,531.15 L80.40,531.19 L81.40,531.23 L82.40,531.27 L83.40,531.30 L84.40,531.34 L85.40,531.38 L86.40,531.41 L87.40,531.45 L88.40,531.48 L89.40,531.52 L90.40,531.55 L91.40,531.58 L92.40,531.61 L93.40,531.64 L94.40,531.67 L95.40,531.70 L96.40,531.72 L97.40,531.75 L98.40,531.77 L99.40,531.79 L100.40,531.81 L101.40,531.83 L102.40,531.85 L103.40,531.86 L104.40,531.87 L105.40,531.88 L106.40,531.89 L107.40,531.90 L108.40,531.90 L109.40,531.90 L110.40,531.90 L111.40,531.90 L112.40,531.89 L113.40,531.88 L114.40,531.87 L115.40,531.86 L116.40,531.84 L117.40,531.82 L118.40,531.80 L119.40,531.77 L120.40,531.74 L121.40,531.71 L122.40,531.68 L123.40,531.64 L124.40,531.59 L125.40,531.55 L126.40,531.50 L127.40,531.45 L128.40,531.39 L129.40,531.33 L130.40,531.26 L131.40,531.20 L132.40,531.12 L133.40,531.05 L134.40,530.97 L135.40,530.88 L136.40,530.79 L137.40,530.70 L138.40,530.60 L139.40,530.50 L140.40,530.39 L141.40,530.28 L142.40,530.16 L143.40,530.04 L144.40,529.91 L145.40,529.78 L146.40,529.64 L147.40,529.50 L148.40,529.35 L149.40,529.20 L150.40,529.05 L151.40,528.89 L152.40,528.73 L153.40,528.57 L154.40,528.41 L155.40,528.25 L156.40,528.09 L157.40,527.93 L158.40,527.76 L159.40,527.60 L160.40,527.45 L161.40,527.29 L162.40,527.14 L163.40,526.99 L164.40,526.84 L165.40,526.70 L166.40,526.57 L167.40,526.44 L168.40,526.32 L169.40,526.20 L170.40,526.09 L171.40,525.99 L172.40,525.90 L173.40,525.81 L174.40,525.74 L175.40,525.67 L176.40,525.61 L177.40,525.57 L178.40,525.54 L179.40,525.52 L180.40,525.51 L181.40,525.51 L182.40,525.52 L183.40,525.54 L184.40,525.57 L185.40,525.62 L186.40,525.68 L187.40,525.74 L188.40,525.82 L189.40,525.91 L190.40,526.01 L191.40,526.12 L192.40,526.25 L193.40,526.38 L194.40,526.52 L195.40,526.68 L196.40,526.84 L197.40,527.02 L198.40,527.21 L199.40,527.41 L200.40,527.62 L201.40,527.84 L202.40,528.06 L203.40,528.28 L204.40,528.50 L205.40,528.70 L206.40,528.88 L207.40,529.03 L208.40,529.15 L209.40,529.24 L210.40,529.28 L211.40,529.26 L212.40,529.20 L213.40,529.07 L214.40,528.88 L215.40,528.62 L216.40,528.30 L217.40,527.90 L218.40,527.43 L219.40,526.88 L220.40,526.25 L221.40,525.54 L222.40,524.74 L223.40,523.85 L224.40,522.87 L225.40,521.80 L226.40,520.64 L227.40,519.41 L228.40,518.12 L229.40,516.78 L230.40,515.38 L231.40,513.96 L232.40,512.50 L233.40,511.03 L234.40,509.54 L235.40,508.06 L236.40,506.58 L237.40,505.13 L238.40,503.70 L239.40,502.30 L240.40,500.96 L241.40,499.66 L242.40,498.43 L243.40,497.27 L244.40,496.20 L245.40,495.21 L246.40,494.33 L247.40,493.54 L248.40,492.85 L249.40,492.25 L250.40,491.73 L251.40,491.31 L252.40,490.96 L253.40,490.69 L254.40,490.50 L255.40,490.37 L256.40,490.32 L257.40,490.32 L258.40,490.38 L259.40,490.49 L260.40,490.64 L261.40,490.83 L262.40,491.05 L263.40,491.30 L264.40,491.57 L265.40,491.85 L266.40,492.14 L267.40,492.44 L268.40,492.73 L269.40,493.02 L270.40,493.29 L271.40,493.55 L272.40,493.78 L273.40,494.00 L274.40,494.21 L275.40,494.40 L276.40,494.58 L277.40,494.74 L278.40,494.88 L279.40,495.02 L280.40,495.14 L281.40,495.25 L282.40,495.34 L283.40,495.42 L284.40,495.50 L285.40,495.56 L286.40,495.61 L287.40,495.65 L288.40,495.68 L289.40,495.70 L290.40,495.72 L291.40,495.72 L292.40,495.72 L293.40,495.71 L294.40,495.69 L295.40,495.67 L296.40,495.64 L297.40,495.61 L298.40,495.57 L299.40,495.52 L300.40,495.47 L301.40,495.41 L302.40,495.34 L303.40,495.27 L304.40,495.19 L305.40,495.10 L306.40,495.00 L307.40,494.89 L308.40,494.77 L309.40,494.65 L310.40,494.51 L311.40,494.36 L312.40,494.20 L313.40,494.03 L314.40,493.85 L315.40,493.66 L316.40,493.46 L317.40,493.24 L318.40,493.01 L319.40,492.76 L320.40,492.50 L321.40,492.23 L322.40,491.94 L323.40,491.64 L324.40,491.32 L325.40,490.99 L326.40,490.64 L327.40,490.28 L328.40,489.89 L329.40,489.49 L330.40,489.08 L330.80,488.90" fill="none" stroke="#000" stroke-width="2.95" stroke-linecap="butt" stroke-linejoin="round"/>
<line x1="48.40" y1="625.30" x2="370.20" y2="625.30" stroke="#EAEAEA" stroke-width="1.6"/>
<line x1="48.40" y1="666.65" x2="370.20" y2="666.65" stroke="#EAEAEA" stroke-width="1.6"/>
<line x1="48.40" y1="708.00" x2="370.20" y2="708.00" stroke="#EAEAEA" stroke-width="1.6"/>
<line x1="63.15" y1="584.80" x2="63.15" y2="724.30" stroke="#E6E6E6" stroke-width="2.0"/>
<line x1="84.06" y1="584.80" x2="84.06" y2="724.30" stroke="#EAEAEA" stroke-width="1.6"/>
<line x1="104.96" y1="584.80" x2="104.96" y2="724.30" stroke="#E6E6E6" stroke-width="2.0"/>
<line x1="125.87" y1="584.80" x2="125.87" y2="724.30" stroke="#EAEAEA" stroke-width="1.6"/>
<line x1="146.78" y1="584.80" x2="146.78" y2="724.30" stroke="#E6E6E6" stroke-width="2.0"/>
<line x1="167.69" y1="584.80" x2="167.69" y2="724.30" stroke="#EAEAEA" stroke-width="1.6"/>
<line x1="188.59" y1="584.80" x2="188.59" y2="724.30" stroke="#E6E6E6" stroke-width="2.0"/>
<line x1="209.50" y1="584.80" x2="209.50" y2="724.30" stroke="#EAEAEA" stroke-width="1.6"/>
<line x1="230.41" y1="584.80" x2="230.41" y2="724.30" stroke="#E6E6E6" stroke-width="2.0"/>
<line x1="251.31" y1="584.80" x2="251.31" y2="724.30" stroke="#EAEAEA" stroke-width="1.6"/>
<line x1="272.22" y1="584.80" x2="272.22" y2="724.30" stroke="#E6E6E6" stroke-width="2.0"/>
<line x1="293.13" y1="584.80" x2="293.13" y2="724.30" stroke="#EAEAEA" stroke-width="1.6"/>
<line x1="314.04" y1="584.80" x2="314.04" y2="724.30" stroke="#E6E6E6" stroke-width="2.0"/>
<line x1="334.94" y1="584.80" x2="334.94" y2="724.30" stroke="#EAEAEA" stroke-width="1.6"/>
<line x1="355.85" y1="584.80" x2="355.85" y2="724.30" stroke="#E6E6E6" stroke-width="2.0"/>
<line x1="48.40" y1="604.60" x2="370.20" y2="604.60" stroke="#E6E6E6" stroke-width="2.0"/>
<line x1="48.40" y1="646.00" x2="370.20" y2="646.00" stroke="#E6E6E6" stroke-width="2.0"/>
<line x1="48.40" y1="687.30" x2="370.20" y2="687.30" stroke="#E6E6E6" stroke-width="2.0"/>
<line x1="63.15" y1="715.00" x2="180.23" y2="699.00" stroke="rgba(55,55,170,0.55)" stroke-width="4.6" stroke-linecap="round"/>
<line x1="180.23" y1="699.00" x2="205.32" y2="684.80" stroke="rgba(55,55,170,0.55)" stroke-width="4.6" stroke-linecap="round"/>
<line x1="205.32" y1="684.80" x2="255.50" y2="639.50" stroke="rgba(55,55,170,0.55)" stroke-width="4.6" stroke-linecap="round"/>
<line x1="255.50" y1="639.50" x2="272.22" y2="626.50" stroke="rgba(55,55,170,0.55)" stroke-width="4.6" stroke-linecap="round"/>
<line x1="272.22" y1="626.50" x2="288.95" y2="605.00" stroke="rgba(55,55,170,0.55)" stroke-width="4.6" stroke-linecap="round"/>
<line x1="288.95" y1="605.00" x2="297.31" y2="600.50" stroke="rgba(55,55,170,0.55)" stroke-width="4.6" stroke-linecap="round"/>
<line x1="297.31" y1="600.50" x2="330.76" y2="591.00" stroke="rgba(55,55,170,0.55)" stroke-width="4.6" stroke-linecap="round"/>
<circle cx="63.15" cy="715.00" r="4.5" fill="rgba(40,40,175,0.55)" stroke="rgba(15,15,165,0.85)" stroke-width="1.5"/>
<circle cx="180.23" cy="699.00" r="4.5" fill="rgba(40,40,175,0.55)" stroke="rgba(15,15,165,0.85)" stroke-width="1.5"/>
<circle cx="205.32" cy="684.80" r="4.5" fill="rgba(40,40,175,0.55)" stroke="rgba(15,15,165,0.85)" stroke-width="1.5"/>
<circle cx="255.50" cy="639.50" r="4.5" fill="rgba(40,40,175,0.55)" stroke="rgba(15,15,165,0.85)" stroke-width="1.5"/>
<circle cx="272.22" cy="626.50" r="4.5" fill="rgba(40,40,175,0.55)" stroke="rgba(15,15,165,0.85)" stroke-width="1.5"/>
<circle cx="288.95" cy="605.00" r="4.5" fill="rgba(40,40,175,0.55)" stroke="rgba(15,15,165,0.85)" stroke-width="1.5"/>
<circle cx="297.31" cy="600.50" r="4.5" fill="rgba(40,40,175,0.55)" stroke="rgba(15,15,165,0.85)" stroke-width="1.5"/>
<circle cx="330.76" cy="591.00" r="4.5" fill="rgba(40,40,175,0.55)" stroke="rgba(15,15,165,0.85)" stroke-width="1.5"/>
<path d="M63.00,715.97 L64.00,716.12 L65.00,716.27 L66.00,716.41 L67.00,716.55 L68.00,716.69 L69.00,716.83 L70.00,716.97 L71.00,717.10 L72.00,717.23 L73.00,717.35 L74.00,717.48 L75.00,717.60 L76.00,717.71 L77.00,717.83 L78.00,717.94 L79.00,718.04 L80.00,718.15 L81.00,718.25 L82.00,718.34 L83.00,718.44 L84.00,718.53 L85.00,718.61 L86.00,718.69 L87.00,718.77 L88.00,718.85 L89.00,718.92 L90.00,718.99 L91.00,719.05 L92.00,719.11 L93.00,719.16 L94.00,719.21 L95.00,719.26 L96.00,719.30 L97.00,719.34 L98.00,719.37 L99.00,719.40 L100.00,719.42 L101.00,719.44 L102.00,719.46 L103.00,719.47 L104.00,719.48 L105.00,719.48 L106.00,719.47 L107.00,719.46 L108.00,719.45 L109.00,719.43 L110.00,719.41 L111.00,719.38 L112.00,719.34 L113.00,719.30 L114.00,719.26 L115.00,719.21 L116.00,719.15 L117.00,719.09 L118.00,719.02 L119.00,718.95 L120.00,718.87 L121.00,718.79 L122.00,718.70 L123.00,718.60 L124.00,718.50 L125.00,718.39 L126.00,718.28 L127.00,718.16 L128.00,718.03 L129.00,717.90 L130.00,717.76 L131.00,717.62 L132.00,717.47 L133.00,717.31 L134.00,717.14 L135.00,716.97 L136.00,716.80 L137.00,716.61 L138.00,716.42 L139.00,716.22 L140.00,716.02 L141.00,715.81 L142.00,715.59 L143.00,715.36 L144.00,715.13 L145.00,714.89 L146.00,714.64 L147.00,714.39 L148.00,714.13 L149.00,713.86 L150.00,713.58 L151.00,713.30 L152.00,713.01 L153.00,712.71 L154.00,712.40 L155.00,712.09 L156.00,711.76 L157.00,711.43 L158.00,711.10 L159.00,710.75 L160.00,710.40 L161.00,710.03 L162.00,709.66 L163.00,709.28 L164.00,708.90 L165.00,708.50 L166.00,708.10 L167.00,707.69 L168.00,707.27 L169.00,706.84 L170.00,706.40 L171.00,705.95 L172.00,705.50 L173.00,705.03 L174.00,704.56 L175.00,704.08 L176.00,703.59 L177.00,703.09 L178.00,702.58 L179.00,702.06 L180.00,701.53 L181.00,701.00 L182.00,700.45 L183.00,699.90 L184.00,699.33 L185.00,698.76 L186.00,698.17 L187.00,697.58 L188.00,696.98 L189.00,696.36 L190.00,695.74 L191.00,695.11 L192.00,694.47 L193.00,693.81 L194.00,693.15 L195.00,692.48 L196.00,691.79 L197.00,691.10 L198.00,690.39 L199.00,689.68 L200.00,688.95 L201.00,688.21 L202.00,687.45 L203.00,686.69 L204.00,685.91 L205.00,685.13 L206.00,684.33 L207.00,683.51 L208.00,682.69 L209.00,681.85 L210.00,681.00 L211.00,680.13 L212.00,679.25 L213.00,678.36 L214.00,677.46 L215.00,676.54 L216.00,675.60 L217.00,674.66 L218.00,673.69 L219.00,672.72 L220.00,671.73 L221.00,670.72 L222.00,669.70 L223.00,668.66 L224.00,667.61 L225.00,666.54 L226.00,665.46 L227.00,664.37 L228.00,663.27 L229.00,662.17 L230.00,661.08 L231.00,660.00 L232.00,658.94 L233.00,657.91 L234.00,656.89 L235.00,655.91 L236.00,654.95 L237.00,654.02 L238.00,653.11 L239.00,652.23 L240.00,651.36 L241.00,650.52 L242.00,649.70 L243.00,648.90 L244.00,648.11 L245.00,647.35 L246.00,646.60 L247.00,645.86 L248.00,645.14 L249.00,644.43 L250.00,643.73 L251.00,643.04 L252.00,642.36 L253.00,641.68 L254.00,641.01 L255.00,640.33 L256.00,639.65 L257.00,638.96 L258.00,638.26 L259.00,637.55 L260.00,636.83 L261.00,636.09 L262.00,635.33 L263.00,634.54 L264.00,633.73 L265.00,632.89 L266.00,632.02 L267.00,631.12 L268.00,630.18 L269.00,629.20 L270.00,628.18 L271.00,627.12 L272.00,626.01 L273.00,624.86 L274.00,623.67 L275.00,622.45 L276.00,621.20 L277.00,619.94 L278.00,618.66 L279.00,617.38 L280.00,616.10 L281.00,614.84 L282.00,613.58 L283.00,612.35 L284.00,611.15 L285.00,609.98 L286.00,608.85 L287.00,607.77 L288.00,606.75 L289.00,605.79 L290.00,604.89 L291.00,604.06 L292.00,603.30 L293.00,602.60 L294.00,601.96 L295.00,601.38 L296.00,600.84 L297.00,600.35 L298.00,599.90 L299.00,599.49 L300.00,599.12 L301.00,598.78 L302.00,598.46 L303.00,598.18 L304.00,597.91 L305.00,597.65 L306.00,597.41 L307.00,597.18 L308.00,596.96 L309.00,596.73 L310.00,596.51 L311.00,596.28 L312.00,596.03 L313.00,595.78 L314.00,595.51 L315.00,595.24 L316.00,594.95 L317.00,594.66 L318.00,594.36 L319.00,594.06 L320.00,593.76 L321.00,593.45 L322.00,593.15 L323.00,592.84 L324.00,592.55 L325.00,592.26 L326.00,591.97 L327.00,591.69 L328.00,591.43 L329.00,591.18 L330.00,590.94 L330.40,590.84" fill="none" stroke="#000" stroke-width="2.95" stroke-linecap="butt" stroke-linejoin="round"/>
<text x="37.5" y="44.00" class="ax" text-anchor="end">100</text>
<text x="37.5" y="72.50" class="ax" text-anchor="end">95</text>
<text x="37.5" y="101.05" class="ax" text-anchor="end">90</text>
<text x="37.5" y="129.60" class="ax" text-anchor="end">85</text>
<text x="37.5" y="158.10" class="ax" text-anchor="end">80</text>
<text x="40.5" y="15.80" class="tag">A)</text>
<text x="209.3" y="14.90" class="ti" text-anchor="middle">Forest Cover (%)</text>
<text x="37.5" y="231.10" class="ax" text-anchor="end">-300</text>
<text x="37.5" y="263.40" class="ax" text-anchor="end">-350</text>
<text x="37.5" y="295.70" class="ax" text-anchor="end">-400</text>
<text x="37.5" y="328.00" class="ax" text-anchor="end">-450</text>
<text x="40.5" y="202.00" class="tag">B)</text>
<text x="209.3" y="201.70" class="ti" text-anchor="middle">Drought Intensity - MCWD (mm)</text>
<text x="37.5" y="417.50" class="ax" text-anchor="end">10.0</text>
<text x="37.5" y="447.85" class="ax" text-anchor="end">7.5</text>
<text x="37.5" y="478.20" class="ax" text-anchor="end">5.0</text>
<text x="37.5" y="508.50" class="ax" text-anchor="end">2.5</text>
<text x="37.5" y="538.80" class="ax" text-anchor="end">0.0</text>
<text x="40.5" y="389.30" class="tag">C)</text>
<text x="209.3" y="387.10" class="ti" text-anchor="middle">Burned area (%)</text>
<text x="37.5" y="611.10" class="ax" text-anchor="end">6000</text>
<text x="37.5" y="652.50" class="ax" text-anchor="end">5000</text>
<text x="37.5" y="693.80" class="ax" text-anchor="end">4000</text>
<text x="40.5" y="576.00" class="tag">D)</text>
<text x="209.3" y="574.40" class="ti" text-anchor="middle">Population (#)</text>
<text x="63.15" y="747.5" class="ax" text-anchor="middle">1985</text>
<text x="104.96" y="747.5" class="ax" text-anchor="middle">1990</text>
<text x="146.78" y="747.5" class="ax" text-anchor="middle">1995</text>
<text x="188.59" y="747.5" class="ax" text-anchor="middle">2000</text>
<text x="230.41" y="747.5" class="ax" text-anchor="middle">2005</text>
<text x="272.22" y="747.5" class="ax" text-anchor="middle">2010</text>
<text x="314.04" y="747.5" class="ax" text-anchor="middle">2015</text>
<text x="355.85" y="747.5" class="ax" text-anchor="middle">2020</text>
</svg></body></html>
